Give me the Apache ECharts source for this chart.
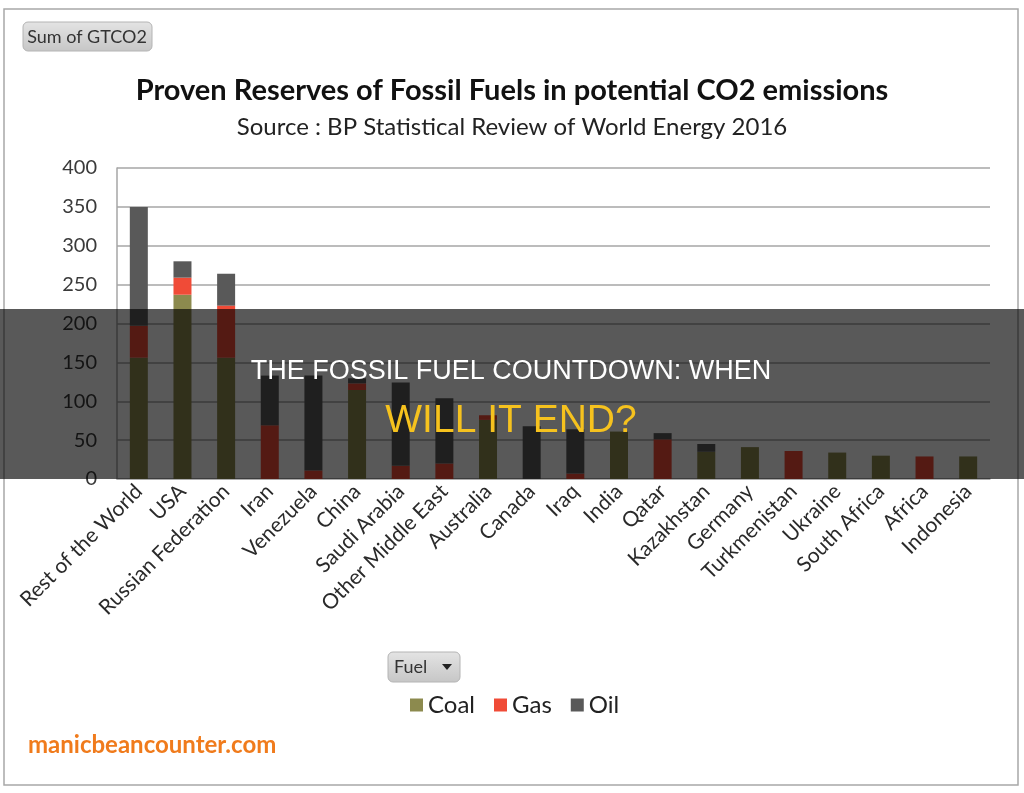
<!DOCTYPE html>
<html>
<head>
<meta charset="UTF-8">
<title>Proven Reserves of Fossil Fuels</title>
<script src="https://cdn.jsdelivr.net/npm/echarts@6/dist/echarts.min.js"></script>
<style>
html, body { margin: 0; padding: 0; background: #fff; }
#main { width: 1024px; height: 793px; }
</style>
</head>
<body>
<div id="main"></div>
<script>
// categories, sorted by total reserves
var countries = ['Rest of the World', 'USA', 'Russian Federation', 'Iran', 'Venezuela', 'China',
	'Saudi Arabia', 'Other Middle East', 'Australia', 'Canada', 'Iraq', 'India', 'Qatar',
	'Kazakhstan', 'Germany', 'Turkmenistan', 'Ukraine', 'South Africa', 'Africa', 'Indonesia'];
// GtCO2 per fuel
var coal = [156, 237, 156, 0, 0, 114.5, 0, 0, 76, 0, 0, 61, 0, 35, 41, 0, 34, 30, 0, 29];
var gas = [41, 22, 67, 69, 11, 8.5, 17, 20, 6, 0, 7, 0, 51, 0, 0, 36, 0, 0, 29, 0];
var oil = [153, 21, 41, 64, 122, 6.5, 107, 84, 0, 68, 57, 0, 8, 10, 0, 0, 0, 0, 0, 0];
var fuels = ['Coal', 'Gas', 'Oil'];
var fuelColors = ['#8c8a4e', '#f04b37', '#595959'];

var chart = echarts.init(document.getElementById('main'));

function btn(x, y, w, h) {
	return {
		type: 'rect',
		shape: { x: x, y: y, width: w, height: h, r: 5 },
		style: {
			fill: new echarts.graphic.LinearGradient(0, 0, 0, 1, [
				{ offset: 0, color: '#e4e4e4' }, { offset: 1, color: '#c6c6c6' }
			]),
			stroke: '#b4b4b4', lineWidth: 1
		}
	};
}

var option = {
	animation: false,
	backgroundColor: '#fff',
	title: [{
		text: 'Proven Reserves of Fossil Fuels in potential CO2 emissions',
		left: 'center', top: 71,
		textStyle: { fontFamily: 'Lato', fontSize: 29, fontWeight: 'bold', color: '#111' }
	}, {
		text: 'Source : BP Statistical Review of World Energy 2016',
		left: 'center', top: 110,
		textStyle: { fontFamily: 'Lato', fontSize: 24, fontWeight: 'normal', color: '#222' }
	}],
	legend: {
		data: fuels,
		left: 405, top: 688,
		itemWidth: 13, itemHeight: 13, itemGap: 19,
		icon: 'rect',
		textStyle: { fontFamily: 'Lato', fontSize: 24, color: '#222' }
	},
	grid: { left: 117, right: 34, top: 168, bottom: 314 },
	xAxis: {
		type: 'category',
		data: countries,
		axisLine: { lineStyle: { color: '#a6a6a6', width: 1.5 } },
		axisTick: { length: 6, lineStyle: { color: '#a6a6a6' } },
		axisLabel: { rotate: 45, margin: 9, interval: 0, fontFamily: 'Lato', fontSize: 21, color: '#2a2a2a' }
	},
	yAxis: {
		type: 'value',
		min: 0, max: 400, interval: 50,
		axisLine: { show: true, lineStyle: { color: '#a6a6a6', width: 1.5 } },
		axisTick: { show: false },
		splitLine: { lineStyle: { color: '#a6a6a6', width: 1.5 } },
		axisLabel: { margin: 20, fontFamily: 'Lato', fontSize: 20, color: '#3a3a3a' }
	},
	series: [
		{ name: 'Coal', type: 'bar', stack: 'f', data: coal, barWidth: 18, itemStyle: { color: fuelColors[0] } },
		{ name: 'Gas', type: 'bar', stack: 'f', data: gas, barWidth: 18, itemStyle: { color: fuelColors[1] } },
		{ name: 'Oil', type: 'bar', stack: 'f', data: oil, barWidth: 18, itemStyle: { color: fuelColors[2] } }
	],
	graphic: [
		// outer frame
		{ type: 'rect', shape: { x: 4, y: 9, width: 1014, height: 776 },
			style: { fill: 'none', stroke: '#a8a8a8', lineWidth: 1.5 } },
		// pivot buttons
		btn(23, 22, 129, 29),
		{ type: 'text', x: 87, y: 37, style: { text: 'Sum of GTCO2', fontFamily: 'Lato', fontSize: 18,
			fill: '#333', align: 'center', verticalAlign: 'middle' } },
		btn(388, 652, 72, 30),
		{ type: 'text', x: 394, y: 667, style: { text: 'Fuel', fontFamily: 'Lato', fontSize: 18,
			fill: '#333', verticalAlign: 'middle' } },
		{ type: 'polygon', shape: { points: [[442, 664], [452, 664], [447, 670]] }, style: { fill: '#222' } },
		// watermark
		{ type: 'text', x: 28, y: 745, style: { text: 'manicbeancounter.com', fontFamily: 'Lato', fontSize: 24,
			fontWeight: 'bold', fill: '#f07b1c', verticalAlign: 'middle' } },
		// dark headline band over the chart
		{ type: 'rect', z: 100, shape: { x: 0, y: 309, width: 1024, height: 170 },
			style: { fill: 'rgba(0,0,0,0.65)' } },
		{ type: 'text', z: 101, x: 511, y: 372, style: { text: 'THE FOSSIL FUEL COUNTDOWN: WHEN',
			fontFamily: 'Liberation Sans', fontSize: 27, fill: '#ffffff', align: 'center', verticalAlign: 'middle' } },
		{ type: 'text', z: 101, x: 511, y: 421, style: { text: 'WILL IT END?',
			fontFamily: 'Liberation Sans', fontSize: 39, fill: '#f6c21e', align: 'center', verticalAlign: 'middle' } }
	]
};
chart.setOption(option);
</script>
</body>
</html>
